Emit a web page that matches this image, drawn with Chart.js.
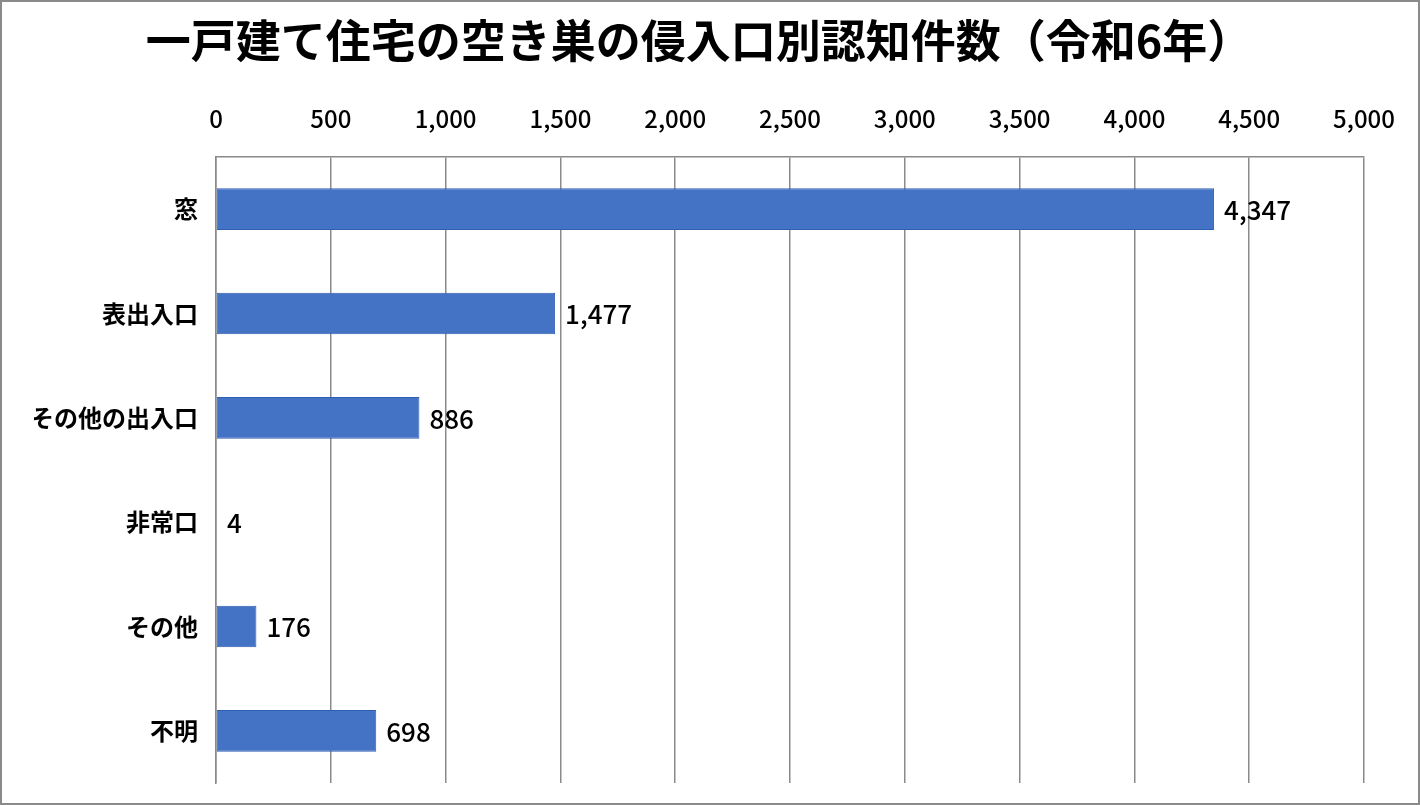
<!DOCTYPE html>
<html lang="ja">
<head>
<meta charset="utf-8">
<title>一戸建て住宅の空き巣の侵入口別認知件数</title>
<script src="https://cdn.jsdelivr.net/npm/chart.js@4"></script>
<style>
  html, body { margin: 0; padding: 0; background: #fff; }
  #wrap { width: 1420px; height: 805px; position: relative; }
</style>
</head>
<body>
<div id="wrap"><canvas id="chart"></canvas></div>
<script>
// data
const categories = ["窓", "表出入口", "その他の出入口", "非常口", "その他", "不明"];
const counts = [4347, 1477, 886, 4, 176, 698];
const axisMin = 0;
const axisMax = 5000;
const axisStep = 500;

const FONT = "'Noto Sans CJK JP', 'Noto Sans', sans-serif";

// -------------------------------
// value labels next to each bar
// -------------------------------
const valueLabels = {
  id: "valueLabels",
  afterDatasetsDraw(chart) {
    const ctx = chart.ctx;
    const meta = chart.getDatasetMeta(0);
    ctx.save();
    ctx.font = "500 26px " + FONT;
    ctx.fillStyle = "#000";
    ctx.textAlign = "left";
    ctx.textBaseline = "middle";
    meta.data.forEach((bar, i) => {
      ctx.fillText(counts[i].toLocaleString("en-US"), bar.x + 10, bar.y + 1);
    });
    ctx.restore();
  }
};

// -------------------------------
// outer frame
// -------------------------------
const frame = {
  id: "frame",
  afterDraw(chart) {
    const ctx = chart.ctx;
    ctx.save();
    ctx.strokeStyle = "#8a8a8a";
    ctx.lineWidth = 2;
    ctx.strokeRect(1, 1, chart.width - 2, chart.height - 2);
    ctx.restore();
  }
};

new Chart(document.getElementById("chart"), {
  type: "bar",
  data: {
    labels: categories,
    datasets: [{
      data: counts,
      backgroundColor: "#4472c4",
      borderColor: "#2f5fb3",
      borderWidth: 1,
      borderSkipped: false,
      categoryPercentage: 1,
      barPercentage: 0.4
    }]
  },
  options: {
    indexAxis: "y",
    responsive: true,
    maintainAspectRatio: false,
    animation: false,
    layout: { padding: { left: 34, right: 56, top: 0, bottom: 22 } },
    plugins: {
      legend: { display: false },
      tooltip: { enabled: false },
      title: {
        display: true,
        text: "一戸建て住宅の空き巣の侵入口別認知件数（令和6年）",
        color: "#000",
        font: { family: FONT, size: 45, weight: "bold" },
        padding: { top: 14, bottom: 5 }
      }
    },
    scales: {
      x: {
        position: "top",
        min: axisMin,
        max: axisMax,
        ticks: {
          stepSize: axisStep,
          color: "#000",
          padding: 24,
          font: { family: FONT, size: 24, weight: "500" },
          callback: v => v.toLocaleString("en-US")
        },
        grid: { color: "#8a8a8a", lineWidth: 1.5, drawTicks: false },
        border: { display: true, color: "#8a8a8a", width: 1.5 },
        afterFit(scale) { scale.height = 84; }
      },
      y: {
        ticks: {
          color: "#000",
          padding: 18,
          font: { family: FONT, size: 24, weight: "bold" }
        },
        grid: { display: false, drawTicks: false },
        border: { display: true, color: "#8a8a8a", width: 1.5 },
        afterFit(scale) {
          scale.width = 182;
          // labels sit inside the bands, no extra room needed above/below
          scale.paddingTop = 0;
          scale.paddingBottom = 0;
        }
      }
    }
  },
  plugins: [valueLabels, frame]
});
</script>
</body>
</html>
